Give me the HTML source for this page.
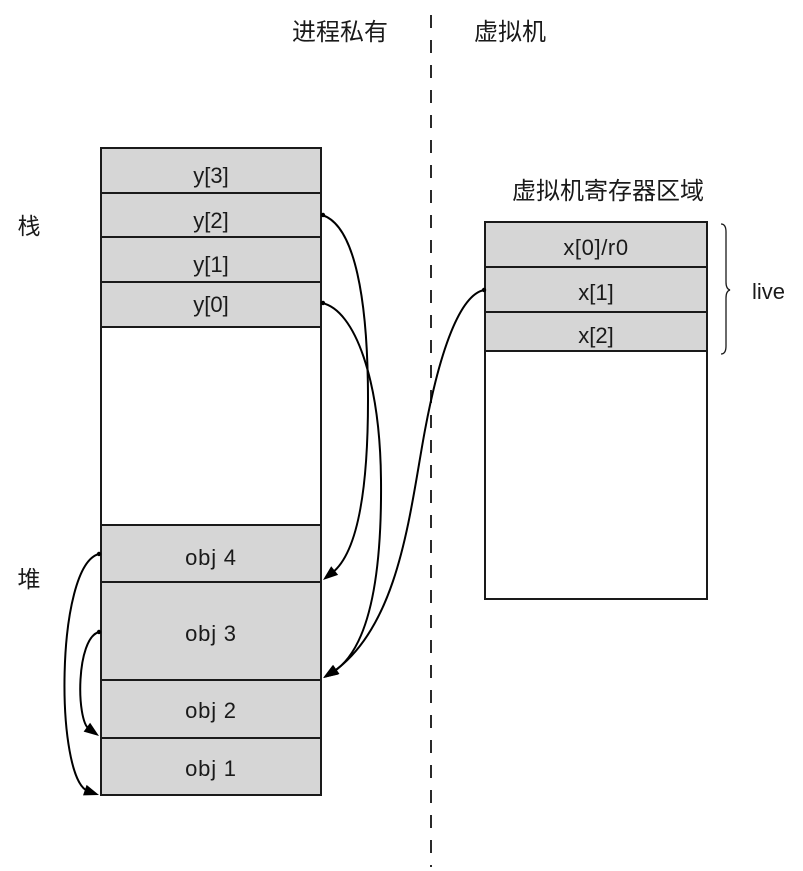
<!DOCTYPE html>
<html>
<head>
<meta charset="utf-8">
<style>
  html, body { margin: 0; padding: 0; background: #ffffff; }
  body { width: 803px; height: 871px; overflow: hidden; }
  svg { display: block; }
  .lat { font-family: "Liberation Sans", "Noto Sans CJK SC", sans-serif; font-size: 22px; fill: #1a1a1a; }
  .cjk { font-family: "Liberation Sans", "Noto Sans CJK SC", sans-serif; font-size: 24px; fill: #1a1a1a; }
</style>
</head>
<body>
<svg width="803" height="871" viewBox="0 0 803 871" xmlns="http://www.w3.org/2000/svg">

  <!-- dashed divider -->
  <line x1="431" y1="15" x2="431" y2="867" stroke="#2a2a2a" stroke-width="2" stroke-dasharray="13 12"/>

  <!-- headers -->
  <text class="cjk" x="340" y="40" text-anchor="middle">进程私有</text>
  <text class="cjk" x="510" y="40" text-anchor="middle">虚拟机</text>
  <text class="cjk" x="608" y="199" text-anchor="middle">虚拟机寄存器区域</text>
  <text class="cjk" x="29" y="234" text-anchor="middle" style="font-size:23px">栈</text>
  <text class="cjk" x="29" y="587" text-anchor="middle" style="font-size:23px">堆</text>

  <!-- left stack -->
  <g stroke="#1a1a1a" stroke-width="2">
    <rect x="101" y="148" width="220" height="647" fill="#fff"/>
    <rect x="101" y="148" width="220" height="179" fill="#d6d6d6"/>
    <rect x="101" y="525" width="220" height="270" fill="#d6d6d6"/>
    <line x1="101" y1="193" x2="321" y2="193"/>
    <line x1="101" y1="237" x2="321" y2="237"/>
    <line x1="101" y1="282" x2="321" y2="282"/>
    <line x1="101" y1="582" x2="321" y2="582"/>
    <line x1="101" y1="680" x2="321" y2="680"/>
    <line x1="101" y1="738" x2="321" y2="738"/>
  </g>
  <g text-anchor="middle">
    <text x="211" y="183" class="lat">y[3]</text>
    <text x="211" y="228" class="lat">y[2]</text>
    <text x="211" y="272" class="lat">y[1]</text>
    <text x="211" y="312" class="lat">y[0]</text>
    <text x="211" y="565" class="lat" style="letter-spacing:0.8px">obj 4</text>
    <text x="211" y="641" class="lat" style="letter-spacing:0.8px">obj 3</text>
    <text x="211" y="718" class="lat" style="letter-spacing:0.8px">obj 2</text>
    <text x="211" y="776" class="lat" style="letter-spacing:0.8px">obj 1</text>
  </g>

  <!-- right register box -->
  <g stroke="#1a1a1a" stroke-width="2">
    <rect x="485" y="222" width="222" height="377" fill="#fff"/>
    <rect x="485" y="222" width="222" height="129" fill="#d6d6d6"/>
    <line x1="485" y1="267" x2="707" y2="267"/>
    <line x1="485" y1="312" x2="707" y2="312"/>
  </g>
  <text x="596" y="255" class="lat" text-anchor="middle" style="letter-spacing:0.6px">x[0]/r0</text>
  <text x="596" y="300" class="lat" text-anchor="middle">x[1]</text>
  <text x="596" y="343" class="lat" text-anchor="middle">x[2]</text>

  <!-- brace and live -->
  <path d="M721,224 Q726,224 726,232 L726,282 Q726,289 730,290 Q726,291 726,298 L726,346 Q726,354 721,354" fill="none" stroke="#1a1a1a" stroke-width="1.3"/>
  <text x="752" y="299" class="lat">live</text>

  <!-- connectors -->
  <g fill="none" stroke="#000" stroke-width="2">
    <path d="M322,215 C355,225 368,300 368,400 C368,500 355,555 332,573"/>
    <path d="M322,303 C355,310 380,380 381,480 C382,580 368,650 333,672"/>
    <path d="M484,290 C460,295 440,350 425,430 C410,510 400,625 333,672"/>
    <path d="M99,554 C55,565 55,780 88,791"/>
    <path d="M99,632 C76,638 76,720 89,729"/>
  </g>
  <!-- arrowheads -->
  <g fill="#000">
    <path d="M0,0 L-15,-5.5 L-15,5.5 Z" transform="translate(323,580) rotate(141)"/>
    <path d="M0,0 L-15,-5.5 L-15,5.5 Z" transform="translate(323,678) rotate(147)"/>
    <path d="M0,0 L-15,-5.5 L-15,5.5 Z" transform="translate(324,678) rotate(145)"/>
    <path d="M0,0 L-15,-5.5 L-15,5.5 Z" transform="translate(99,795) rotate(19)"/>
    <path d="M0,0 L-15,-5.5 L-15,5.5 Z" transform="translate(99,736) rotate(36)"/>
  </g>
  <g fill="#000">
    <circle cx="323" cy="215" r="2.2"/>
    <circle cx="323" cy="303" r="2.2"/>
    <circle cx="484" cy="290" r="2.2"/>
    <circle cx="99" cy="554" r="2.2"/>
    <circle cx="99" cy="632" r="2.2"/>
  </g>
</svg>
</body>
</html>
